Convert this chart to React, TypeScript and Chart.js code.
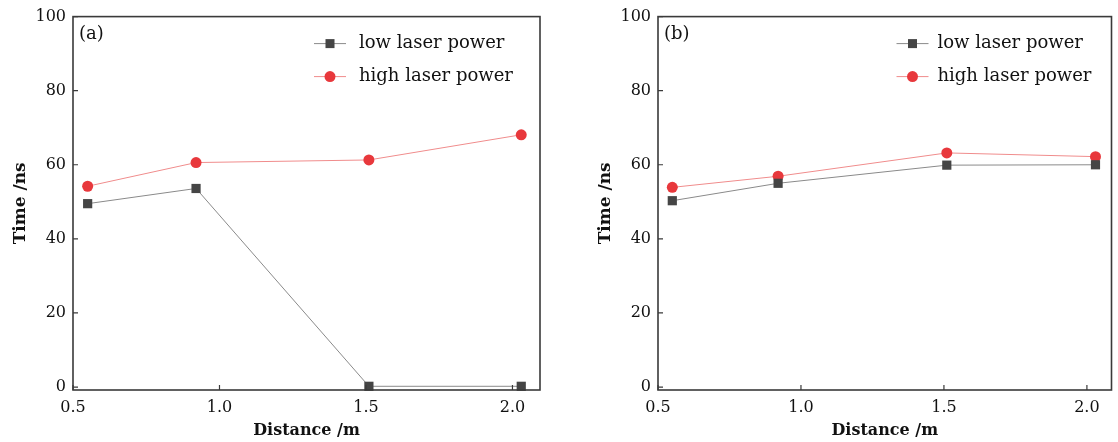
import React, { useEffect, useRef } from "react";
import { Chart, registerables } from "chart.js";

Chart.register(...registerables);

const distances = [0.55, 0.92, 1.51, 2.03];
const lowA = [49.5, 53.6, 0.2, 0.2];
const highA = [54.2, 60.6, 61.3, 68.1];
const lowB = [50.3, 55.0, 59.9, 60.0];
const highB = [53.9, 56.9, 63.2, 62.2];
const xTicks = [0.5, 1.0, 1.5, 2.0];
const yTicks = [0, 20, 40, 60, 80, 100];
const seriesNames = ["low laser power", "high laser power"];
const panelLabels = ["(a)", "(b)"];
const xTitle = "Distance /m";
const yTitle = "Time /ns";

const FONT = "'DejaVu Serif', 'Liberation Serif', serif";
const AXIS_COLOR = "#3a3a3a";

const framePlugin = {
  id: "frame",
  afterDatasetsDraw(chart: any, _args: any, opts: any) {
    const { ctx, chartArea } = chart;
    const { left, right, top, bottom } = chartArea;
    const xs = chart.scales.x;
    const ys = chart.scales.y;
    ctx.save();
    ctx.strokeStyle = AXIS_COLOR;
    ctx.lineWidth = 1.6;
    ctx.strokeRect(left, top, right - left, bottom - top);
    ctx.lineWidth = 1.2;
    ctx.beginPath();
    xTicks.forEach((v) => {
      const px = xs.getPixelForValue(v);
      ctx.moveTo(px, bottom);
      ctx.lineTo(px, bottom - 5);
    });
    yTicks.forEach((v) => {
      const py = ys.getPixelForValue(v);
      ctx.moveTo(left, py);
      ctx.lineTo(left + 5, py);
    });
    ctx.stroke();

    // panel label
    ctx.fillStyle = "#111";
    ctx.font = `18px ${FONT}`;
    ctx.textBaseline = "middle";
    ctx.textAlign = "left";
    ctx.fillText(opts.label, left + 6, top + 18);

    // legend
    const lx = right - opts.legendRight;
    const rows = [top + 27, top + 60];
    chart.data.datasets.forEach((ds: any, i: number) => {
      const y = rows[i];
      ctx.strokeStyle = ds.borderColor;
      ctx.lineWidth = 1;
      ctx.beginPath();
      ctx.moveTo(lx - 16, y);
      ctx.lineTo(lx + 16, y);
      ctx.stroke();
      ctx.fillStyle = ds.pointBackgroundColor;
      if (ds.pointStyle === "rect") {
        ctx.fillRect(lx - 4.5, y - 4.5, 9, 9);
      } else {
        ctx.beginPath();
        ctx.arc(lx, y, 5.5, 0, Math.PI * 2);
        ctx.fill();
      }
      ctx.fillStyle = "#111";
      ctx.font = `18px ${FONT}`;
      ctx.textAlign = "left";
      ctx.textBaseline = "middle";
      ctx.fillText(ds.label, lx + opts.textGap, y);
    });
    ctx.restore();
  },
};

function makeConfig(low: number[], high: number[], label: string, xMax: number, padLeft: number, yWidth: number, padRight: number, legendRight: number, textGap: number) {
  return {
    type: "line" as const,
    data: {
      datasets: [
        {
          label: seriesNames[0],
          data: distances.map((d, i) => ({ x: d, y: low[i] })),
          borderColor: "#8a8a8a",
          borderWidth: 1,
          pointStyle: "rect",
          pointRadius: 6.5,
          pointBackgroundColor: "#454545",
          pointBorderColor: "#454545",
          pointBorderWidth: 0,
          clip: false,
          tension: 0,
        },
        {
          label: seriesNames[1],
          data: distances.map((d, i) => ({ x: d, y: high[i] })),
          borderColor: "#f08c8c",
          borderWidth: 1,
          pointStyle: "circle",
          pointRadius: 5.5,
          pointBackgroundColor: "#e8383c",
          pointBorderColor: "#e8383c",
          pointBorderWidth: 0,
          clip: false,
          tension: 0,
        },
      ],
    },
    options: {
      animation: false,
      responsive: false,
      events: [],
      layout: { padding: { left: padLeft, right: padRight, top: 15, bottom: 0 } },
      plugins: {
        legend: { display: false },
        tooltip: { enabled: false },
        frame: { label, legendRight, textGap },
      },
      scales: {
        x: {
          type: "linear",
          min: 0.5,
          max: xMax,
          afterBuildTicks: (s: any) => {
            s.ticks = xTicks.map((v) => ({ value: v }));
          },
          afterFit: (s: any) => {
            s.height = 52;
            s.paddingLeft = 0;
            s.paddingRight = 0;
          },
          grid: { display: false, drawTicks: false },
          border: { display: false },
          ticks: {
            color: "#111",
            font: { family: FONT, size: 16 },
            padding: 8,
            maxRotation: 0,
            autoSkip: false,
            callback: (v: any) => Number(v).toFixed(1),
          },
          title: {
            display: true,
            text: xTitle,
            color: "#111",
            font: { family: FONT, size: 16, weight: "bold" },
            padding: { top: 0, bottom: 2 },
          },
        },
        y: {
          type: "linear",
          min: -0.8,
          max: 100,
          afterBuildTicks: (s: any) => {
            s.ticks = yTicks.map((v) => ({ value: v }));
          },
          afterFit: (s: any) => {
            s.width = yWidth;
          },
          grid: { display: false, drawTicks: false },
          border: { display: false },
          ticks: {
            color: "#111",
            font: { family: FONT, size: 16 },
            padding: 7,
            autoSkip: false,
          },
          title: {
            display: true,
            text: yTitle,
            color: "#111",
            font: { family: FONT, size: 17, weight: "bold" },
            padding: { top: 4, bottom: 4 },
          },
        },
      },
    },
    plugins: [framePlugin],
  };
}

function Panel(props: { cfg: any; left: number; width: number }) {
  const ref = useRef<HTMLCanvasElement | null>(null);
  useEffect(() => {
    if (!ref.current) return;
    const chart = new Chart(ref.current, props.cfg);
    return () => chart.destroy();
  }, []);
  return (
    <canvas
      ref={ref}
      width={props.width}
      height={442}
      style={{ position: "absolute", left: props.left, top: 0, width: props.width, height: 442 }}
    />
  );
}

export default function App() {
  const cfgA = makeConfig(lowA, highA, panelLabels[0], 2.094, 6, 67, 20, 210, 29);
  const cfgB = makeConfig(lowB, highB, panelLabels[1], 2.086, 31, 67, 1, 199, 25);
  return (
    <div style={{ position: "fixed", left: 0, top: 0, width: 1118, height: 442, background: "#fff", overflow: "hidden" }}>
      <Panel cfg={cfgA} left={0} width={560} />
      <Panel cfg={cfgB} left={560} width={558} />
    </div>
  );
}
